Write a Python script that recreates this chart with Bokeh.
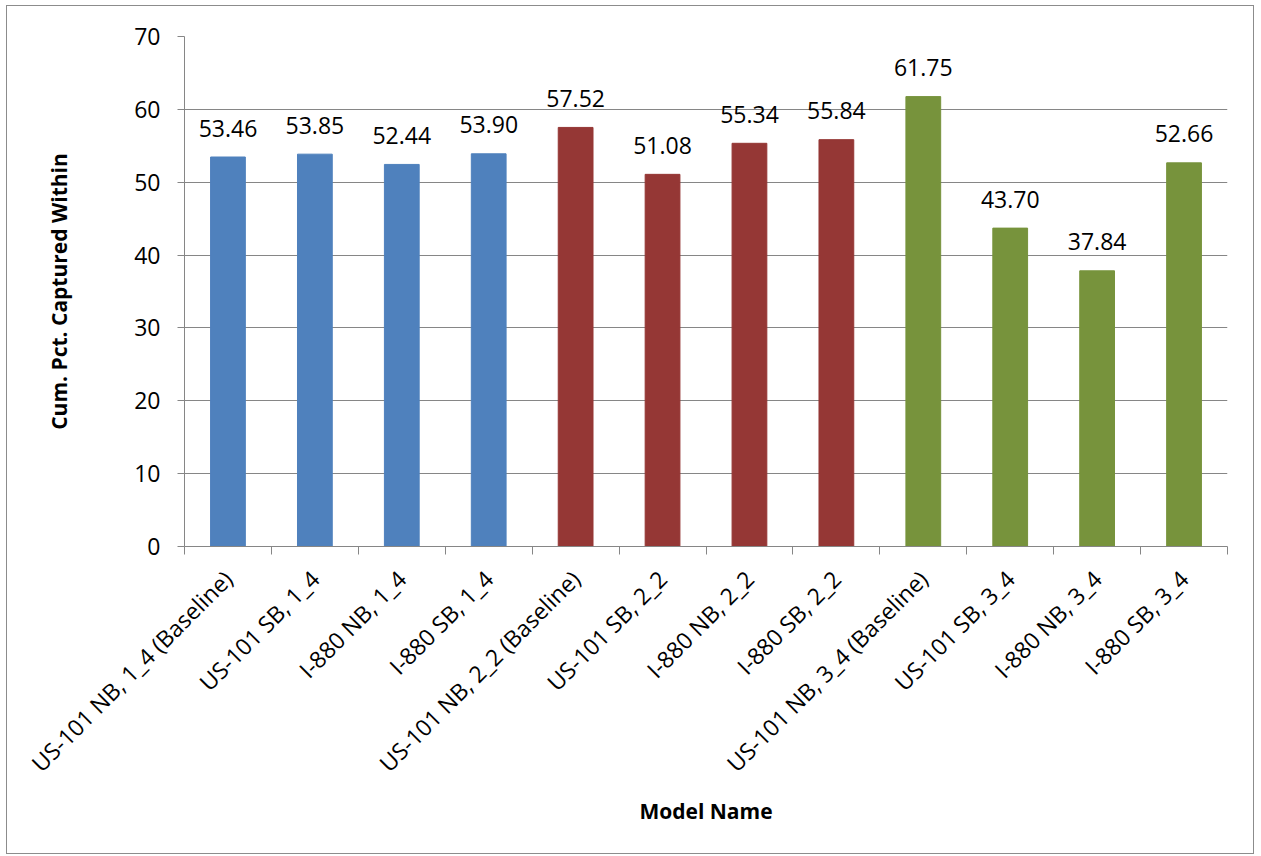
import math
from bokeh.plotting import figure
from bokeh.models import ColumnDataSource, Range1d, FixedTicker
from bokeh.core.properties import value
from bokeh.embed import file_html
from bokeh.resources import INLINE

categories = ["US-101 NB, 1_4 (Baseline)", "US-101 SB, 1_4", "I-880 NB, 1_4", "I-880 SB, 1_4",
              "US-101 NB, 2_2 (Baseline)", "US-101 SB, 2_2", "I-880 NB, 2_2", "I-880 SB, 2_2",
              "US-101 NB, 3_4 (Baseline)", "US-101 SB, 3_4", "I-880 NB, 3_4", "I-880 SB, 3_4"]
values = [53.46, 53.85, 52.44, 53.90, 57.52, 51.08, 55.34, 55.84, 61.75, 43.70, 37.84, 52.66]
groups = ["1_4", "1_4", "1_4", "1_4", "2_2", "2_2", "2_2", "2_2", "3_4", "3_4", "3_4", "3_4"]
group_colors = {"1_4": "#4F81BD", "2_2": "#953735", "3_4": "#77933C"}
y_ticks = [0, 10, 20, 30, 40, 50, 60, 70]

FONT = "Open Sans"
GRAY = "#868686"

xs = [i + 0.5 for i in range(len(categories))]
src = ColumnDataSource(dict(
    x=xs, top=values, color=[group_colors[g] for g in groups],
    label=["{:.2f}".format(v) for v in values],
))

p = figure(width=1248, height=849, output_backend="svg", toolbar_location=None,
           x_range=Range1d(0, len(categories)), y_range=Range1d(0, 70),
           min_border_left=177, min_border_right=28, min_border_top=30, min_border_bottom=309,
           margin=(5, 0, 0, 6))
p.styles = {"border": "1px solid #8c8c8c"}
p.outline_line_color = None
p.background_fill_color = "white"
p.border_fill_color = "white"

p.vbar(x="x", top="top", width=0.4, bottom=0, color="color", source=src)
p.text(x="x", y="top", text="label", source=src, text_align="center", text_baseline="alphabetic",
       y_offset=-29, text_font=value(FONT), text_font_size="23px", text_color="black")

# y axis
p.yaxis.ticker = FixedTicker(ticks=y_ticks)
p.yaxis.axis_line_color = GRAY
p.yaxis.major_tick_line_color = GRAY
p.yaxis.major_tick_out = 7
p.yaxis.major_tick_in = 0
p.yaxis.minor_tick_line_color = None
p.yaxis.major_label_text_font = FONT
p.yaxis.major_label_text_font_size = "23px"
p.yaxis.major_label_text_color = "black"
p.yaxis.major_label_standoff = 17
p.yaxis.axis_label = "Cum. Pct. Captured Within"
p.yaxis.axis_label_text_font = FONT
p.yaxis.axis_label_text_font_size = "21px"
p.yaxis.axis_label_text_font_style = "bold"
p.yaxis.axis_label_text_color = "black"
p.yaxis.axis_label_standoff = 58

# x axis: labels at centers, ticks at boundaries
p.xaxis.ticker = FixedTicker(ticks=xs, minor_ticks=list(range(len(categories) + 1)))
p.xaxis.major_label_overrides = {x: c for x, c in zip(xs, categories)}
p.xaxis.major_label_orientation = math.pi / 4
p.xaxis.axis_line_color = GRAY
p.xaxis.major_tick_line_color = None
p.xaxis.minor_tick_line_color = GRAY
p.xaxis.minor_tick_out = 8
p.xaxis.minor_tick_in = 0
p.xaxis.major_label_text_font = FONT
p.xaxis.major_label_text_font_size = "23px"
p.xaxis.major_label_text_color = "black"
p.xaxis.major_label_standoff = 20
p.xaxis.axis_label = "Model Name"
p.xaxis.axis_label_text_font = FONT
p.xaxis.axis_label_text_font_size = "21px"
p.xaxis.axis_label_text_font_style = "bold"
p.xaxis.axis_label_text_color = "black"
p.xaxis.axis_label_standoff = 4

p.xgrid.grid_line_color = None
p.ygrid.ticker = FixedTicker(ticks=y_ticks)
p.ygrid.grid_line_color = GRAY
p.ygrid.grid_line_width = 1

open("out.html", "w").write(file_html(p, INLINE))
